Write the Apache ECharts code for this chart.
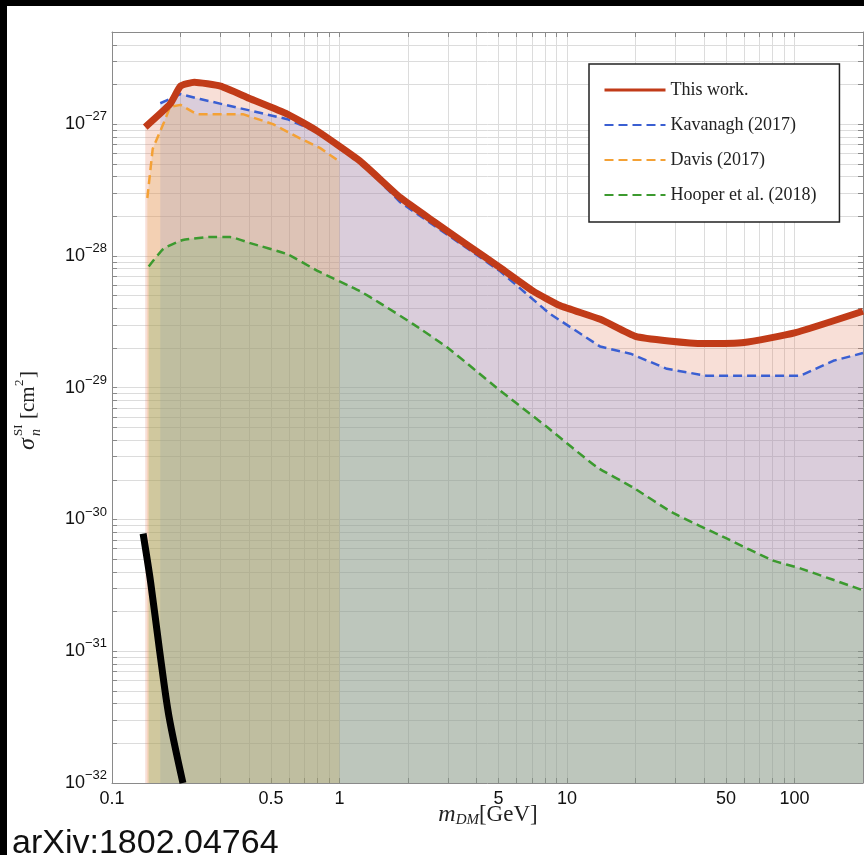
<!DOCTYPE html>
<html>
<head>
<meta charset="utf-8">
<script src="https://cdn.jsdelivr.net/npm/echarts@6/dist/echarts.min.js"></script>
<style>
  html, body { margin: 0; padding: 0; background: #fff; }
  #chart { width: 864px; height: 855px; }
</style>
</head>
<body>
<div id="chart"></div>
<script>
// masses in GeV, cross sections in cm^2
const thisWorkMass = [0.14, 0.18, 0.2, 0.23, 0.3, 0.4, 0.59, 0.8, 1.23, 1.85, 2.6, 3.6, 5.1, 7.1, 9.3, 14, 20, 28, 40, 60, 100, 200]
const thisWorkSigma = [9.5e-28, 1.42e-27, 1.94e-27, 2.08e-27, 1.94e-27, 1.57e-27, 1.19e-27, 8.85e-28, 5.25e-28, 2.77e-28, 1.82e-28, 1.23e-28, 8.1e-29, 5.4e-29, 4.2e-29, 3.3e-29, 2.45e-29, 2.26e-29, 2.16e-29, 2.2e-29, 2.6e-29, 3.8e-29]

const kavanaghMass = [0.163, 0.2, 0.244, 0.365, 0.59, 0.82, 1.23, 1.85, 4.0, 5.1, 8.4, 14, 19, 27.5, 41, 106, 148, 200]
const kavanaghSigma = [1.44e-27, 1.69e-27, 1.55e-27, 1.32e-27, 1.09e-27, 8.55e-28, 5.2e-28, 2.55e-28, 1.02e-28, 7.6e-29, 3.64e-29, 2.05e-29, 1.81e-29, 1.39e-29, 1.23e-29, 1.23e-29, 1.6e-29, 1.83e-29]

const davisMass = [0.143, 0.151, 0.168, 0.18, 0.2, 0.236, 0.376, 0.51, 0.67, 0.82, 1.0]
const davisSigma = [2.75e-28, 6.5e-28, 1.0e-27, 1.35e-27, 1.4e-27, 1.19e-27, 1.19e-27, 1.0e-27, 7.8e-28, 6.6e-28, 5.2e-28]

const hooperMass = [0.145, 0.168, 0.205, 0.27, 0.33, 0.405, 0.59, 0.8, 1.23, 1.5, 2.1, 3.0, 4.9, 8.2, 13.5, 19.5, 29, 50, 80, 106, 200]
const hooperSigma = [8.3e-29, 1.13e-28, 1.32e-28, 1.39e-28, 1.39e-28, 1.25e-28, 1.03e-28, 7.7e-29, 5.4e-29, 4.4e-29, 3.05e-29, 2.0e-29, 1.0e-29, 5.0e-30, 2.5e-30, 1.75e-30, 1.13e-30, 7.2e-31, 4.9e-31, 4.25e-31, 2.9e-31]

const boundMass = [0.137, 0.148, 0.162, 0.178, 0.205]
const boundSigma = [7.8e-31, 3.3e-31, 1.0e-31, 3.2e-32, 1.0e-32]

const legendNames = ['This work.', 'Kavanagh (2017)', 'Davis (2017)', 'Hooper et al. (2018)']
const xLabelValues = [0.1, 0.5, 1, 5, 10, 50, 100]
const yLabelExponents = [-32, -31, -30, -29, -28, -27]

// echarts rounds log extents to 20 decimals, so the y axis runs in units of 1e-32 cm^2
const SIGMA_UNIT = 1e-32
const X_MIN = 0.1, X_MAX = 200
const Y_MIN = 1, Y_MAX = 5e5

// tick positions at 1..9 x 10^e
function logTicks (lo, hi, min, max) {
  const out = []
  for (let e = lo; e <= hi; e++) {
    for (let k = 1; k < 10; k++) {
      const v = +(k * Math.pow(10, e)).toPrecision(6)
      if (v >= min * 0.9999 && v <= max * 1.0001) out.push(v)
    }
  }
  return out
}
const xTicks = logTicks(-1, 2, X_MIN, X_MAX)
const yTicks = logTicks(0, 5, Y_MIN, Y_MAX)
const yLabelValues = yLabelExponents.map(e => +(Math.pow(10, e) / SIGMA_UNIT).toPrecision(6))

const pairs = (xs, ys) => xs.map((x, i) => [x, ys[i] / SIGMA_UNIT])

const SERIF = "'Liberation Serif', 'DejaVu Serif', serif"
const SANS = "'Liberation Sans', Arial, sans-serif"
const GRID = '#dcdcdc'
const AXIS = '#8a8a8a'

const chart = echarts.init(document.getElementById('chart'))

const baseX = {
  type: 'log', min: X_MIN, max: X_MAX, logBase: 10,
  axisLine: { show: true, onZero: false, lineStyle: { color: AXIS, width: 1 } },
  axisTick: { show: true, inside: true, length: 5, customValues: xTicks, lineStyle: { color: AXIS } },
  splitLine: { show: false },
  axisLabel: { show: false }
}
const baseY = {
  type: 'log', min: Y_MIN, max: Y_MAX, logBase: 10,
  axisLine: { show: true, onZero: false, lineStyle: { color: AXIS, width: 1 } },
  axisTick: { show: true, inside: true, length: 5, customValues: yTicks, lineStyle: { color: AXIS } },
  splitLine: { show: false },
  axisLabel: { show: false }
}

const lineSeries = (name, xs, ys, color, dashed, width, z) => ({
  name, type: 'line', data: pairs(xs, ys), symbol: 'none', z,
  lineStyle: { color, width, type: dashed ? [9, 5] : 'solid', join: 'round' },
  itemStyle: { color },
  emphasis: { disabled: true },
  silent: true
})

chart.setOption({
  animation: false,
  backgroundColor: '#fff',
  grid: { left: 112, right: 1, top: 32, bottom: 72, containLabel: false },
  xAxis: [
    Object.assign({}, baseX, {
      position: 'bottom',
      splitLine: { show: true, lineStyle: { color: GRID, width: 1 } },
      axisLabel: {
        show: true, customValues: xLabelValues, margin: 7,
        color: '#111', fontSize: 18, fontFamily: SANS,
        formatter: v => String(+v.toPrecision(3))
      }
    }),
    Object.assign({}, baseX, { position: 'top' })
  ],
  yAxis: [
    Object.assign({}, baseY, {
      position: 'left',
      splitLine: { show: true, lineStyle: { color: GRID, width: 1 } },
      axisLabel: {
        show: true, customValues: yLabelValues, margin: 5,
        formatter: v => '{b|10}{s|−' + Math.round(-(Math.log10(v) + Math.log10(SIGMA_UNIT))) + '}',
        rich: {
          b: { fontSize: 18, fontFamily: SANS, color: '#111', lineHeight: 28 },
          s: { fontSize: 13, fontFamily: SANS, color: '#111', lineHeight: 17, verticalAlign: 'top' }
        }
      }
    }),
    Object.assign({}, baseY, { position: 'right' })
  ],
  legend: {
    orient: 'vertical', left: 589, top: 64,
    padding: [17, 23, 18, 14],
    itemWidth: 61, itemHeight: 18, itemGap: 17,
    backgroundColor: '#fff', borderColor: '#222', borderWidth: 1.5, borderRadius: 0,
    selectedMode: false,
    itemStyle: { opacity: 0, color: 'transparent', borderWidth: 0 },
    textStyle: { fontFamily: SERIF, fontSize: 18, color: '#222' },
    data: [
      { name: legendNames[0], lineStyle: { width: 3 } },
      { name: legendNames[1] },
      { name: legendNames[2] },
      { name: legendNames[3] }
    ]
  },
  series: [
    // fill under this work, kept apart so the thick line sits on top
    {
      name: 'this-work-fill', type: 'line', data: pairs(thisWorkMass, thisWorkSigma),
      symbol: 'none', smooth: 0.15, z: 1, silent: true,
      lineStyle: { width: 0 },
      areaStyle: { color: 'rgba(225,115,80,0.33)', origin: 'start' }
    },
    Object.assign(lineSeries(legendNames[1], kavanaghMass, kavanaghSigma, '#3a5fd2', true, 2.5, 2), {
      areaStyle: { color: 'rgba(110,140,235,0.3)', origin: 'start' }
    }),
    Object.assign(lineSeries(legendNames[2], davisMass, davisSigma, '#f4a135', true, 2.5, 2), {
      areaStyle: { color: 'rgba(231,166,71,0.35)', origin: 'start' }
    }),
    Object.assign(lineSeries(legendNames[3], hooperMass, hooperSigma, '#3c9a2f', true, 2.5, 2), {
      smooth: 0.15,
      areaStyle: { color: 'rgba(100,178,95,0.35)', origin: 'start' }
    }),
    Object.assign(lineSeries(legendNames[0], thisWorkMass, thisWorkSigma, '#c13b18', false, 7, 3), { smooth: 0.15 }),
    Object.assign(lineSeries('bound', boundMass, boundSigma, '#000', false, 7, 3), { smooth: 0.3 })
  ],
  graphic: [
    { type: 'rect', left: 0, top: 0, shape: { width: 864, height: 6 }, style: { fill: '#000' }, silent: true },
    { type: 'rect', left: 0, top: 0, shape: { width: 7, height: 855 }, style: { fill: '#000' }, silent: true },
    {
      type: 'text', left: 12, top: 827, silent: true,
      style: { text: 'arXiv:1802.04764', fill: '#111', font: '34px ' + SANS }
    },
    {
      type: 'text', x: 488, y: 815, silent: true,
      style: {
        text: '{i|m}{d|DM}{r|[GeV]}', align: 'center', verticalAlign: 'middle',
        rich: {
          i: { fontSize: 24, fontStyle: 'italic', fontFamily: SERIF, fill: '#222', lineHeight: 26 },
          d: { fontSize: 15, fontStyle: 'italic', fontFamily: SERIF, fill: '#222', lineHeight: 14, verticalAlign: 'bottom' },
          r: { fontSize: 23, fontFamily: SERIF, fill: '#222', lineHeight: 26 }
        }
      }
    },
    {
      type: 'group', x: 28, y: 407, rotation: Math.PI / 2, silent: true,
      children: [
        { type: 'text', x: -43, y: 0, style: { text: 'σ', font: 'italic 24px ' + SERIF, fill: '#222', verticalAlign: 'middle' } },
        { type: 'text', x: -29, y: 8, style: { text: 'n', font: 'italic 14px ' + SERIF, fill: '#222', verticalAlign: 'middle' } },
        { type: 'text', x: -29, y: -9, style: { text: 'SI', font: '13px ' + SERIF, fill: '#222', verticalAlign: 'middle' } },
        { type: 'text', x: -12, y: 0, style: { text: '[cm', font: '21px ' + SERIF, fill: '#222', verticalAlign: 'middle' } },
        { type: 'text', x: 21, y: -8, style: { text: '2', font: '13px ' + SERIF, fill: '#222', verticalAlign: 'middle' } },
        { type: 'text', x: 29, y: 0, style: { text: ']', font: '21px ' + SERIF, fill: '#222', verticalAlign: 'middle' } }
      ]
    }
  ]
})
</script>
</body>
</html>
